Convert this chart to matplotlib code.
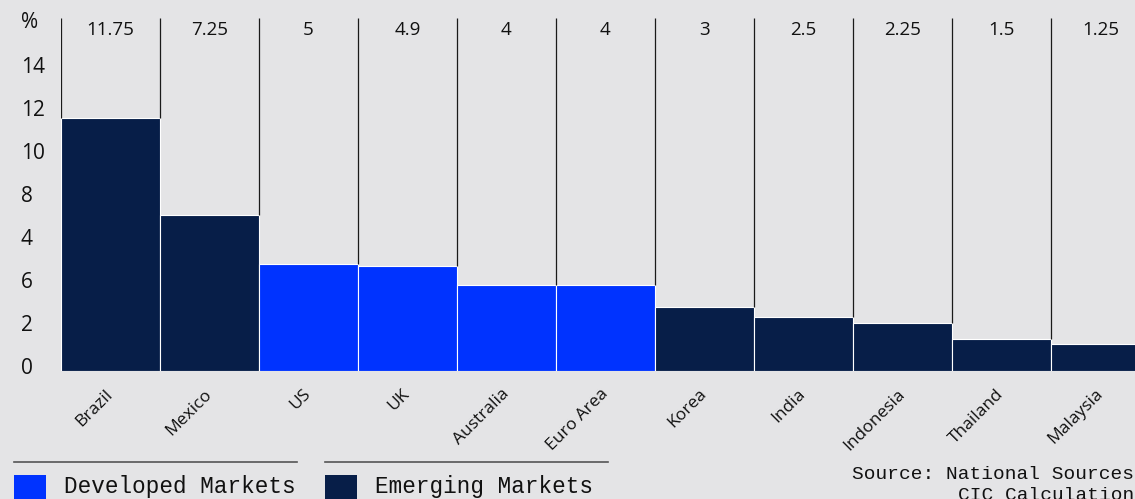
import numpy as np
import matplotlib
matplotlib.use("Agg")
import matplotlib.pyplot as plt
from matplotlib.lines import Line2D
from matplotlib.patches import Rectangle
from matplotlib.transforms import ScaledTranslation

# ---------------- data ----------------
countries = ["Brazil", "Mexico", "US", "UK", "Australia", "Euro Area",
             "Korea", "India", "Indonesia", "Thailand", "Malaysia"]
rates = [11.75, 7.25, 5, 4.9, 4, 4, 3, 2.5, 2.25, 1.5, 1.25]
group = ["EM", "EM", "DM", "DM", "DM", "DM", "EM", "EM", "EM", "EM", "EM"]
ytick_vals = [0, 2, 4, 6, 8, 10, 12, 14]
ytick_labels = ["0", "2", "6", "4", "8", "10", "12", "14"]

# ---------------- style ----------------
BG = "#E4E4E6"
NAVY = "#071E48"
BLUE = "#0033FF"
SANS = ["Open Sans", "DejaVu Sans"]
MONO = ["Liberation Mono", "DejaVu Sans Mono"]
colors = {"DM": BLUE, "EM": NAVY}

W, H = 1135, 499
fig = plt.figure(figsize=(W / 100, H / 100), dpi=100, facecolor=BG)

# axes: left edge 61px, baseline 371px, top 18px
ax = fig.add_axes([61 / W, (H - 371) / H, 1 - 61 / W, 353 / H])
ax.set_facecolor(BG)
YTOP = 16.42
ax.set_xlim(-0.5, 10.35)
ax.set_ylim(0, YTOP)

x = np.arange(len(countries))
ax.bar(x, rates, width=1.0, color=[colors[g] for g in group],
       edgecolor="white", linewidth=0.8, zorder=2)

# thin column separators from the top down to the taller neighbour
bounds = np.arange(len(countries)) - 0.5
ymins = [max(rates[i - 1] if i > 0 else rates[0], rates[i]) for i in range(len(rates))]
ax.vlines(bounds, ymins, YTOP, color="#1a1a1a", linewidth=0.9, zorder=3)

# value labels on top of each column
for xi, v in zip(x, rates):
    ax.text(xi, 15.85, f"{v:g}", ha="center", va="center",
            fontsize=13.5, family=SANS, color="#111111")

for s in ax.spines.values():
    s.set_visible(False)

ax.set_yticks(ytick_vals)
ax.set_yticklabels(ytick_labels, family=SANS, fontsize=15, color="#111111")
ax.tick_params(axis="y", length=0, pad=29)
for lab in ax.get_yticklabels():
    lab.set_horizontalalignment("left")
    lab.set_transform(lab.get_transform() + ScaledTranslation(0, 0.05, fig.dpi_scale_trans))

ax.set_xticks(x)
ax.set_xticklabels(countries, rotation=45, ha="right", va="center",
                   rotation_mode="anchor", family=SANS, fontsize=12.5, color="#111111")
ax.tick_params(axis="x", length=0, pad=15)

fig.text(21 / W, 1 - 23 / H, "%", ha="left", va="center",
         family=SANS, fontsize=15, color="#111111")

# ---------------- legend ----------------
leg_items = [("Developed Markets", BLUE, 14), ("Emerging Markets", NAVY, 325)]
for label, col, x0 in leg_items:
    fig.add_artist(Line2D([x0 / W, (x0 + 283) / W], [1 - 462 / H, 1 - 462 / H],
                          color="#555555", linewidth=1.2, transform=fig.transFigure))
    fig.add_artist(Rectangle((x0 / W, 0), 32 / W, (H - 475) / H,
                             facecolor=col, edgecolor="none", transform=fig.transFigure))
    fig.text((x0 + 50) / W, 1 - 487 / H, label, ha="left", va="center",
             family=MONO, fontsize=16.3, color="#111111")

fig.text(1146 / W, 1 - 485 / H, "Source: National Sources,\nCIC Calculations",
         ha="right", va="center", multialignment="right", linespacing=1.3,
         family=MONO, fontsize=14, color="#111111")

fig.savefig("out.png", dpi=100, facecolor=BG)
